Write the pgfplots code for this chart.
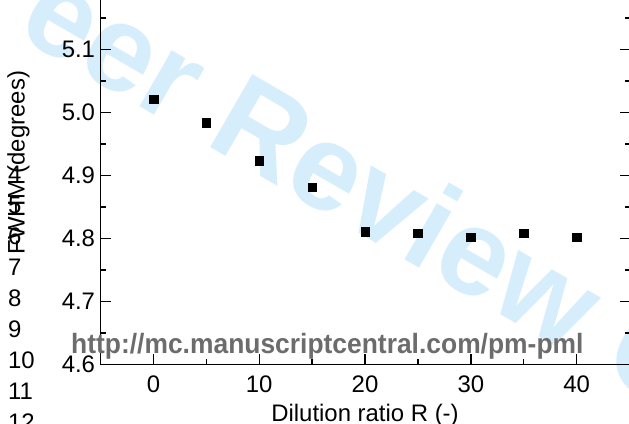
\documentclass[border=0pt]{standalone}
\usepackage{fontspec}
\setmainfont{Liberation Sans}
\usepackage{graphicx}
\usepackage{pgfplots}
\pgfplotsset{compat=1.18}

\definecolor{wmblue}{RGB}{214,238,251}
\definecolor{urlgray}{RGB}{108,108,108}

\begin{document}
\begin{tikzpicture}[x=1bp,y=1bp]
\useasboundingbox (0,0) rectangle (629,423);
\clip (0,0) rectangle (629,423);

% watermark, behind everything
\node[rotate=-30, anchor=base west, inner sep=0, text=wmblue,
      font=\fontsize{123}{123}\selectfont\bfseries] at (203,280) {\llap{For Peer }Review Only};

% manuscript line numbers
\foreach \n/\y in {4/241,5/210,6/179,7/148,8/117,9/86,10/55,11/24,12/-7}
  \node[anchor=base west, inner sep=0, font=\fontsize{24}{24}\selectfont] at (8,\y) {\n};

\begin{pgfinterruptboundingbox}
\begin{axis}[
    at={(95,93)}, anchor=south west,
    scale only axis,
    width=529bp, height=391.9bp,
    xmin=-5, xmax=45,
    ymin=4.6, ymax=5.222,
    enlargelimits=false,
    axis line style={line width=1.6bp},
    every tick/.style={black, line width=1.4bp},
    major tick length=10bp, minor tick length=5bp,
    tick align=inside,
    xtick={0,10,20,30,40},
    minor xtick={5,15,25,35,45},
    ytick={4.6,4.7,4.8,4.9,5.0,5.1,5.2},
    minor ytick={4.65,4.75,4.85,4.95,5.05,5.15},
    /pgf/number format/assume math mode=true,
    tick label style={font=\fontsize{24}{24}\selectfont},
    xticklabel style={anchor=base, yshift=-28bp},
    yticklabel style={xshift=-2bp, /pgf/number format/fixed,
        /pgf/number format/fixed zerofill, /pgf/number format/precision=1},
    xlabel={Dilution ratio R (-)},
    ylabel={FWHM (degrees)},
    every axis x label/.style={at={(axis description cs:0.5,-0.1454)}, anchor=base,
        font=\fontsize{24}{24}\selectfont},
    every axis y label/.style={at={(axis description cs:-0.155,0.515)}, rotate=90, anchor=center,
        font=\fontsize{24}{24}\selectfont},
]
\addplot[only marks, mark=square*, mark size=4.3bp, black] coordinates {
    (0,5.021) (5,4.984) (10,4.923) (15,4.881) (20,4.811)
    (25,4.808) (30,4.802) (35,4.808) (40,4.802)
};
\end{axis}
\end{pgfinterruptboundingbox}

% journal URL on top
\node[anchor=base west, inner sep=0, text=urlgray,
      font=\fontsize{28}{28}\selectfont\bfseries] at (71,70)
      {\scalebox{0.947}[1]{http://mc.manuscriptcentral.com/pm-pml}};
\end{tikzpicture}
\end{document}
